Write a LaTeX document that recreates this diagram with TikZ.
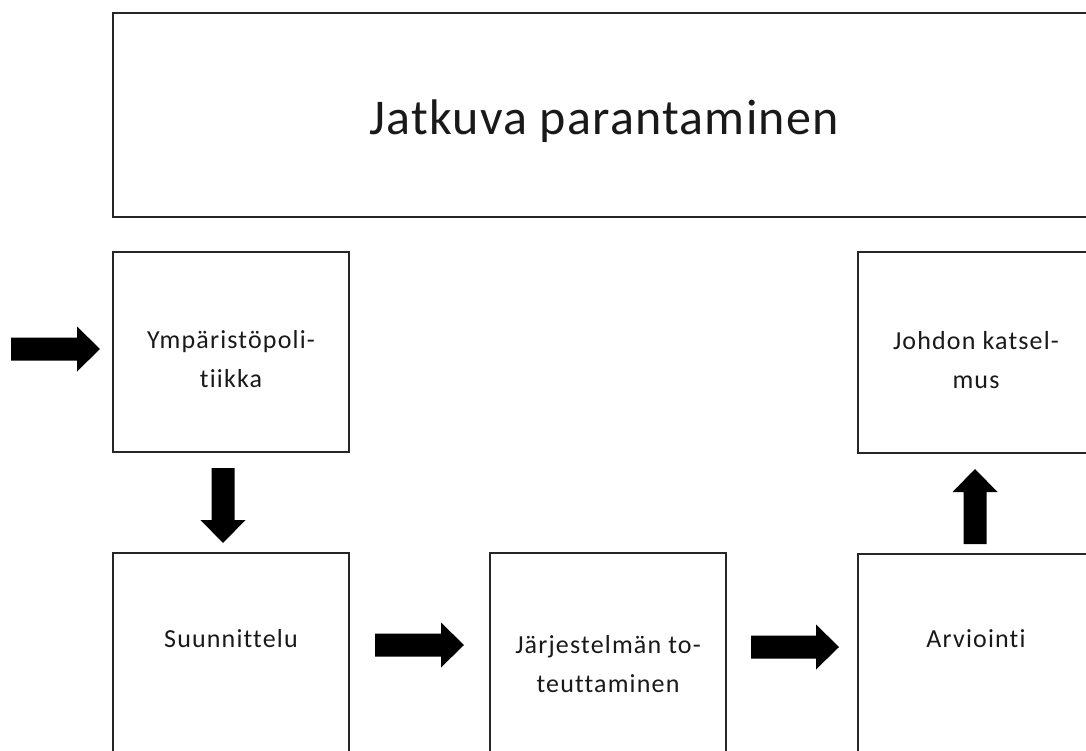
\documentclass[tikz,border=0pt]{standalone}
\usepackage{fontspec}
\setmainfont{Carlito}
\newfontfamily\boxfont[LetterSpace=4.5,Ligatures=NoCommon]{Carlito}
\newfontfamily\titlefont[LetterSpace=2.5,Ligatures=NoCommon]{Carlito}
\begin{document}
\begin{tikzpicture}[x=1pt,y=-1pt,
  box/.style={draw=black!85, line width=2pt, inner sep=0pt, outer sep=0pt, anchor=north west},
  lbl/.style={font=\boxfont\fontsize{26}{39}\selectfont, align=center, anchor=base, inner sep=0pt, text=black!90},
  ttl/.style={font=\titlefont\fontsize{50}{60}\selectfont, anchor=base, inner sep=0pt, text=black!90},
  pics/barrow/.style={code={\fill[black] (0,-11.5) -- ({#1-23},-11.5) -- ({#1-23},-22.5) -- (#1,0) -- ({#1-23},22.5) -- ({#1-23},11.5) -- (0,11.5) -- cycle;}}
]
\useasboundingbox (0,0) rectangle (1086,751);
\clip (0,0) rectangle (1086,751);
\node[box, minimum width=982pt, minimum height=204pt] (jp) at (113,13) {};
\node[box, minimum width=236pt, minimum height=200pt] (ymp) at (113,252) {};
\node[box, minimum width=236pt, minimum height=201pt] (joh) at (858,252) {};
\node[box, minimum width=236pt, minimum height=200pt] (suu) at (113,553) {};
\node[box, minimum width=236pt, minimum height=200pt] (jar) at (490,553) {};
\node[box, minimum width=236pt, minimum height=200pt] (arv) at (858,554) {};
\node[ttl] (jpt) at (604,135) {Jatkuva parantaminen};
\node[lbl] (ympt) at (231,387) {Ympäristöpoli-\\tiikka};
\node[lbl] (joht) at (976,388) {Johdon katsel-\\mus};
\node[lbl] (suut) at (231,647) {Suunnittelu};
\node[lbl] (jart) at (608,692) {Järjestelmän to-\\teuttaminen};
\node[lbl] (arvt) at (976,647) {Arviointi};
\pic at (11,349) {barrow=89};
\pic[rotate=-90] at (223,468) {barrow=75};
\pic at (375,645) {barrow=89};
\pic at (751,647) {barrow=88};
\pic[rotate=90] at (975,544) {barrow=75};
\end{tikzpicture}
\end{document}
